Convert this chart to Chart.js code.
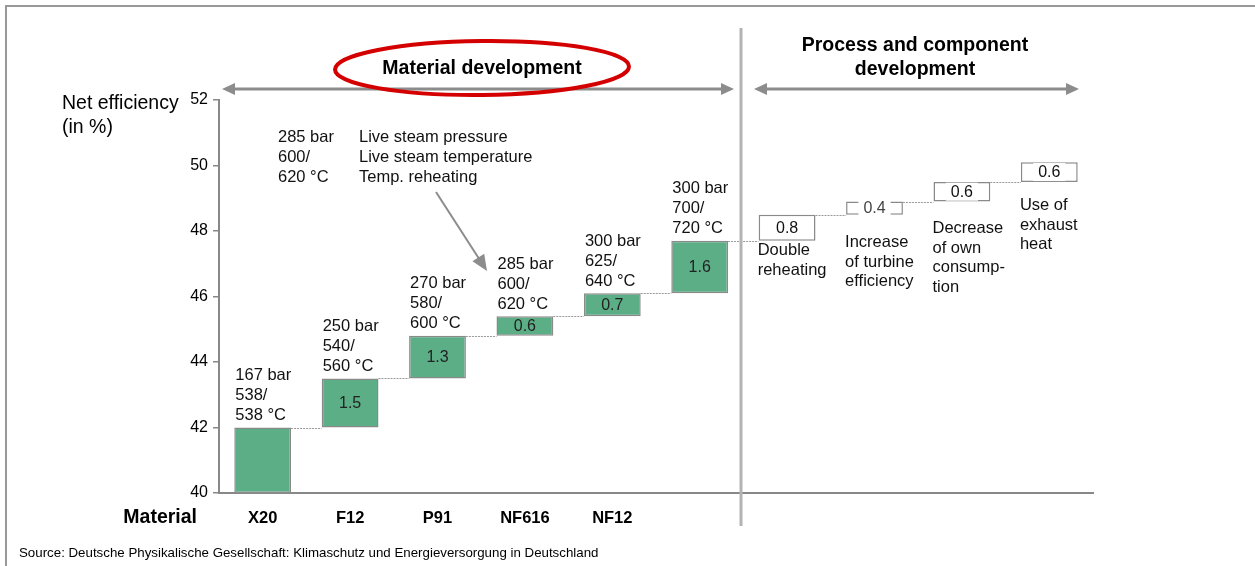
<!DOCTYPE html>
<html>
<head>
<meta charset="utf-8">
<script src="https://cdn.jsdelivr.net/npm/chart.js@4/dist/chart.umd.min.js"></script>
<style>
  html, body { margin: 0; padding: 0; background: #fff; }
  #wrap { width: 1255px; height: 566px; position: relative; }
</style>
</head>
<body>
<div id="wrap"><canvas id="chart"></canvas></div>
<script>
// values
const categories = ['X20', 'F12', 'P91', 'NF616', 'NF12', '', '', '', '', ''];
const barStart = [40, 42, 43.5, 44.8, 45.4, 46.1, 47.7, 48.5, 48.9, 49.5];
const barEnd = [42, 43.5, 44.8, 45.4, 46.1, 47.7, 48.5, 48.9, 49.5, 50.1];
const stepLabels = ['', '1.5', '1.3', '0.6', '0.7', '1.6', '0.8', '0.4', '0.6', '0.6'];
const steamConditions = [
    ['167 bar', '538/', '538 °C'],
    ['250 bar', '540/', '560 °C'],
    ['270 bar', '580/', '600 °C'],
    ['285 bar', '600/', '620 °C'],
    ['300 bar', '625/', '640 °C'],
    ['300 bar', '700/', '720 °C'],
    null, null, null, null
];
const processSteps = [
    null, null, null, null, null, null,
    ['Double', 'reheating'],
    ['Increase', 'of turbine', 'efficiency'],
    ['Decrease', 'of own', 'consump-', 'tion'],
    ['Use of', 'exhaust', 'heat']
];
const yTicks = [40, 42, 44, 46, 48, 50, 52];
const materialCount = 6;

const FONT = '"Liberation Sans", Arial, sans-serif';
const GREEN = '#5bae85';
const EDGE = '#8a8a8a';

function arrowHead(ctx, x, y, dir) {
    // dir: 1 points right, -1 points left
    ctx.beginPath();
    ctx.moveTo(x, y);
    ctx.lineTo(x - dir * 13, y - 6);
    ctx.lineTo(x - dir * 13, y + 6);
    ctx.closePath();
    ctx.fill();
}

function doubleArrow(ctx, x1, x2, y) {
    ctx.save();
    ctx.strokeStyle = '#8c8c8c';
    ctx.fillStyle = '#8c8c8c';
    ctx.lineWidth = 3;
    ctx.beginPath();
    ctx.moveTo(x1 + 10, y);
    ctx.lineTo(x2 - 10, y);
    ctx.stroke();
    arrowHead(ctx, x1, y, -1);
    arrowHead(ctx, x2, y, 1);
    ctx.restore();
}

const decorations = {
    id: 'decorations',
    afterDraw(chart) {
        const ctx = chart.ctx;
        const y = chart.scales.y;
        const meta = chart.getDatasetMeta(0);

        ctx.save();

        // dotted connectors between steps
        ctx.strokeStyle = '#9a9a9a';
        ctx.lineWidth = 1;
        ctx.setLineDash([2, 1]);
        for (let i = 0; i < barEnd.length - 1; i++) {
            const a = meta.data[i];
            const b = meta.data[i + 1];
            const yy = Math.round(y.getPixelForValue(barEnd[i])) + 0.5;
            ctx.beginPath();
            ctx.moveTo(a.x + a.width / 2, yy);
            ctx.lineTo(b.x - b.width / 2, yy);
            ctx.stroke();
        }
        ctx.setLineDash([]);

        // values inside the bars
        ctx.textAlign = 'center';
        ctx.textBaseline = 'middle';
        for (let i = 0; i < stepLabels.length; i++) {
            if (!stepLabels[i]) continue;
            const bar = meta.data[i];
            const cy = (y.getPixelForValue(barStart[i]) + y.getPixelForValue(barEnd[i])) / 2;
            ctx.font = '16px ' + FONT;
            if (i < materialCount) {
                ctx.fillStyle = '#222';
                ctx.fillText(stepLabels[i], bar.x, cy + 1);
            } else {
                const w = ctx.measureText(stepLabels[i]).width + 10;
                ctx.fillStyle = '#fff';
                ctx.fillRect(bar.x - w / 2, cy - 9, w, 18);
                ctx.fillStyle = i === 7 ? '#444' : '#111';
                ctx.fillText(stepLabels[i], bar.x, cy + 1);
            }
        }

        // steam conditions above the material bars
        ctx.textAlign = 'left';
        ctx.fillStyle = '#111';
        ctx.font = '16.5px ' + FONT;
        for (let i = 0; i < steamConditions.length; i++) {
            const lines = steamConditions[i];
            if (!lines) continue;
            const bar = meta.data[i];
            const top = y.getPixelForValue(barEnd[i]);
            const left = bar.x - bar.width / 2 + 1;
            lines.forEach((t, k) => {
                ctx.fillText(t, left, top - 12 - (lines.length - 1 - k) * 20);
            });
        }

        // process step names under the white boxes
        const gaps = { 6: 10, 7: 28, 8: 27, 9: 24 };
        for (let i = 0; i < processSteps.length; i++) {
            const lines = processSteps[i];
            if (!lines) continue;
            const bar = meta.data[i];
            const bottom = y.getPixelForValue(barStart[i]);
            const left = bar.x - bar.width / 2 - 1;
            lines.forEach((t, k) => {
                ctx.fillText(t, left, bottom + gaps[i] + k * 19.5);
            });
        }

        // note explaining the three lines above each bar
        ctx.fillText('285 bar', 278, 137);
        ctx.fillText('600/', 278, 157);
        ctx.fillText('620 °C', 278, 177);
        ctx.fillText('Live steam pressure', 359, 137);
        ctx.fillText('Live steam temperature', 359, 157);
        ctx.fillText('Temp. reheating', 359, 177);

        // pointer arrow
        ctx.strokeStyle = '#8c8c8c';
        ctx.fillStyle = '#8c8c8c';
        ctx.lineWidth = 2;
        const ax1 = 436, ay1 = 192, ax2 = 487, ay2 = 271;
        const ang = Math.atan2(ay2 - ay1, ax2 - ax1);
        ctx.beginPath();
        ctx.moveTo(ax1, ay1);
        ctx.lineTo(ax2 - 12 * Math.cos(ang), ay2 - 12 * Math.sin(ang));
        ctx.stroke();
        ctx.beginPath();
        ctx.moveTo(ax2, ay2);
        ctx.lineTo(ax2 - 16 * Math.cos(ang) + 7 * Math.sin(ang), ay2 - 16 * Math.sin(ang) - 7 * Math.cos(ang));
        ctx.lineTo(ax2 - 16 * Math.cos(ang) - 7 * Math.sin(ang), ay2 - 16 * Math.sin(ang) + 7 * Math.cos(ang));
        ctx.closePath();
        ctx.fill();

        // section separator
        ctx.strokeStyle = '#b3b3b3';
        ctx.lineWidth = 3;
        ctx.beginPath();
        ctx.moveTo(741, 28);
        ctx.lineTo(741, 526);
        ctx.stroke();

        // section arrows and headings
        doubleArrow(ctx, 222, 734, 89);
        doubleArrow(ctx, 754, 1079, 89);

        ctx.strokeStyle = '#d40000';
        ctx.lineWidth = 4;
        ctx.beginPath();
        ctx.ellipse(482, 68, 147, 27, -0.01, 0, Math.PI * 2);
        ctx.stroke();

        ctx.fillStyle = '#000';
        ctx.textAlign = 'center';
        ctx.font = 'bold 19.5px ' + FONT;
        ctx.fillText('Material development', 482, 69);
        ctx.fillText('Process and component', 915, 46);
        ctx.fillText('development', 915, 70);

        // axis titles
        ctx.textAlign = 'left';
        ctx.font = '19.5px ' + FONT;
        ctx.fillText('Net efficiency', 62, 104);
        ctx.fillText('(in %)', 62, 128);
        ctx.textAlign = 'right';
        ctx.font = 'bold 19.5px ' + FONT;
        ctx.fillText('Material', 197, 518);

        // source
        ctx.textAlign = 'left';
        ctx.font = '13.3px ' + FONT;
        ctx.fillText('Source: Deutsche Physikalische Gesellschaft: Klimaschutz und Energieversorgung in Deutschland', 19, 553);

        // frame
        ctx.strokeStyle = '#999';
        ctx.lineWidth = 2;
        ctx.beginPath();
        ctx.moveTo(6, 566);
        ctx.lineTo(6, 6);
        ctx.lineTo(1255, 6);
        ctx.stroke();

        ctx.restore();
    }
};

const barColors = categories.map((c, i) => i < materialCount ? GREEN : '#ffffff');

new Chart(document.getElementById('chart'), {
    type: 'bar',
    data: {
        labels: categories,
        datasets: [{
            data: barStart.map((s, i) => [s, barEnd[i]]),
            backgroundColor: barColors,
            borderColor: EDGE,
            borderWidth: 1.5,
            borderSkipped: false,
            barPercentage: 0.65,
            categoryPercentage: 1
        }]
    },
    options: {
        responsive: true,
        maintainAspectRatio: false,
        animation: false,
        layout: { padding: { left: 0, top: 100, right: 162, bottom: 0 } },
        plugins: {
            legend: { display: false },
            tooltip: { enabled: false }
        },
        scales: {
            x: {
                grid: { display: false, drawTicks: false },
                border: { color: '#888', width: 2 },
                ticks: {
                    color: '#000',
                    padding: 16,
                    maxRotation: 0,
                    font: { family: FONT, size: 16.5, weight: 'bold' }
                },
                afterFit(scale) { scale.height = 73; }
            },
            y: {
                min: yTicks[0],
                max: yTicks[yTicks.length - 1],
                ticks: {
                    stepSize: yTicks[1] - yTicks[0],
                    color: '#000',
                    padding: 5,
                    font: { family: FONT, size: 16 }
                },
                grid: { drawOnChartArea: false, color: '#888', tickLength: 6, lineWidth: 1.5 },
                border: { color: '#888', width: 2 },
                afterFit(scale) { scale.width = 219; }
            }
        }
    },
    plugins: [decorations]
});
</script>
</body>
</html>
